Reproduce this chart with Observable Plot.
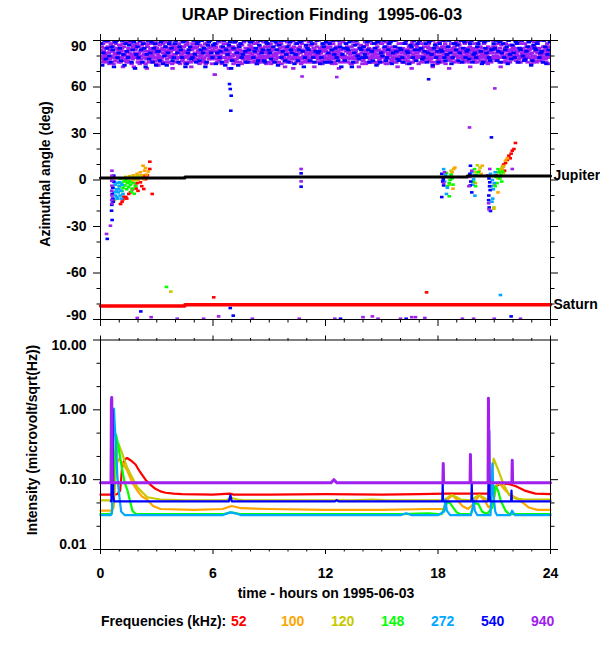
<!DOCTYPE html>
<html><head><meta charset="utf-8">
<script src="https://cdn.jsdelivr.net/npm/d3@7"></script>
<script src="https://cdn.jsdelivr.net/npm/@observablehq/plot@0.6"></script>
<style>
body{margin:0;background:#fff;}
#fig{position:relative;width:600px;height:650px;background:#fff;overflow:hidden;font-family:"Liberation Sans",Arial,sans-serif;}
#fig svg{position:absolute;left:0;overflow:visible;}
.lbl{position:absolute;white-space:pre;font-weight:bold;line-height:1;}
</style></head><body><div id="fig"></div>
<script>
// ---------- data ----------
const freqs = [52, 100, 120, 148, 272, 540, 940];
const freqColors = ["#ff0000", "#ffa500", "#c8c800", "#00ff00", "#00a8ff", "#0000ff", "#a020f0"];

const hourTicks = [0, 6, 12, 18, 24];
const hourMinor = [1,2,3,4,5,7,8,9,10,11,13,14,15,16,17,19,20,21,22,23];
const azTicks = [-90, -60, -30, 0, 30, 60, 90];
const azMinor = [-80,-70,-50,-40,-20,-10,10,20,40,50,70,80];
const intTicks = [0.01, 0.1, 1, 10];
const intMinor = [0.0215, 0.0464, 0.215, 0.464, 2.15, 4.64];

// Jupiter / Saturn azimuth (hour, deg)
const jupiter = [[0,1.3],[4.5,1.3],[4.5,1.9],[19.56,1.9],[19.56,2.6],[24,2.6]];
const saturn = [[0,-81.3],[4.5,-81.3],[4.5,-80.5],[24,-80.5]];

// 940 kHz azimuth band: one string per hour, consecutive samples (2 digits each, deg)
const band940 = [
"848078867682 887983778581 807685898279 869078827584 788488807683 837986758990 817782887985 908478817687",
"827987768483 798588738180 867781908378 768983807785 847682888079 897581847886 807387827984 857979888176",
"788682807589 838078877685 907684817983 817588787286 867983768288 798485807781 887680848379 827786907584",
"857981887478 808387767984 777985828890 848076868183 898278857680 768284798887 837980757286 878176848590",
"818685787983 797688828475 868380908177 788479868276 837587807989 887682847881 807984767385 848881798677",
"798277858890 867880837684 827587797981 908183867678 777984888275 848076828987 817885837980 868279757884",
"877983806885 808688787682 838177848990 788086827579 857682887983 798485777681 888078837286 827986848077",
"847880867589 817784898276 788583807987 868276848188 797587837880 838980767785 907982857884 807683877982",
"788684817690 857980887783 827688797584 897881837686 807985767882 847783898079 778682847588 837980868176",
"868279887583 798485778081 847680908278 818887797684 767983858289 887580827886 807984767383 857881898477",
"827987808476 897683788585 797282868078 848880767983 817785897882 867982757688 788483807990 837677868281",
"807885827689 847981877783 877682807985 797384888176 838680797882 907881857684 827986777583 858079888478",
"788386817985 827689787780 868184797583 798878827690 847580868379 817983777285 887682848081 807985897678",
"858077838879 798684768282 837881907579 867582798487 788980827683 847679888178 817385807986 877982847577",
"827886798489 807583877681 898279857678 787684828088 847981768385 817688837990 867579818477 797883888280",
"887682807985 837984777589 797586828188 857880907683 818477867982 787983848176 907682797385 838885807778",
"807982887684 857683797881 788890828475 847780867983 827985767288 897681838478 807784877982 868279807589",
"838079857688 798584778280 867682908178 817983788685 887780848279 787685827390 848182797688 807986837577",
"857882897680 827984778683 797686818590 887583807984 817980867278 847782887983 787985808476 868180838977",
"808483797688 878276858190 837985807877 797688828483 858081777989 827684867380 907983818578 848077888276",
"817985837688 788482807990 867783798185 837680888277 897981847678 807586827983 857882797684 827990868078",
"798586807782 848078887983 827685797390 878182837680 807984857788 857683817990 788480877682 838779808485",
"867882847990 807785818376 838980787685 797684888281 857982807783 888077848679 817683907985 847981867578",
"827885807689 868079838477 797682888584 848581777980 907883827686 817984798378 857681888082 807986837590"
];
// 540 kHz samples inside the same band
const band540 = [
"8874 8290 7885 9080 7686 8473 8990 7982","8577 9081 7488 8379 8790 7684 8972 8186",
"7990 8476 8885 7381 9078 8289 7685 8874","8383 7789 9075 8086 7482 8890 8577 7988",
"9082 7686 8479 8990 7375 8284 8678 7990","8176 8889 7784 9082 8573 7687 8990 8279",
"8788 7582 9079 8376 8690 7484 8187 8972","7785 8990 8274 8688 7981 9083 7676 8489",
"8990 7983 8575 7787 9082 8477 7689 8884","8278 9086 7689 8474 8790 7983 9077 8186",
"7689 8482 9075 8188 7784 8990 8373 7987","8584 7790 8879 7683 9082 8375 7988 8676",
"8976 8288 7684 9081 8579 7790 8673 8185","7788 8584 8990 7376 8287 9080 7885 8479",
"8681 7989 8476 9083 7788 8574 8990 7682","8090 8677 7984 8889 7582 9086 8378 7785",
"8479 7688 9083 8275 8786 7990 8477 8884","9085 7879 8388 7682 8990 8174 8587 7983",
"7688 8483 9079 7781 8690 8275 7988 8884","8777 8290 7685 8979 8384 7888 9076 8182",
"7986 8890 8375 7689 8582 9079 7784 8488","8590 7783 8976 8288 7984 8675 9081 7887",
"8279 8988 7685 8490 8077 7883 8689 9074","7787 8584 8890 7982 8376 9086 7581 8489"
];

// Scattered azimuth measurements (hour, deg) per frequency
const scatter52 = [[1.07,-15.5],[1.15,-14],[1.2,-12.5],[1.24,-10.8],[1.35,-11],[1.4,-12],[1.51,-9],[1.6,-8],[1.7,-6],[1.87,-3.7],[1.9,-5.5],[1.95,-2],[2.0,-7],[2.13,-1.5],[2.2,-4],[2.3,2.8],[2.31,-5.8],[2.4,0.5],[2.5,3],[2.63,7.1],[2.63,11.8],[2.76,-9],
  [6.04,-75.7],[17.39,-72.5],
  [21.1,3],[21.25,1.5],[21.3,5.5],[21.45,8.5],[21.5,10],[21.55,6],[21.6,11],[21.7,13],[21.78,15.7],[21.85,14],[21.9,17],[21.96,18.9],[22.05,20],[22.13,23.9]];
const scatter100 = [[1.5,1],[1.6,2],[1.7,-0.5],[1.75,3],[1.85,1.5],[1.95,4],[2.0,0],[2.05,2.5],[2.13,5],[2.2,3],[2.27,9.2],[2.3,0.5],[2.35,6],[2.4,7.7],[2.45,3.5],[2.55,5.5],
  [18.7,3],[18.75,5],[18.8,-5.6],[18.84,7.1],[18.9,8],
  [20.0,-2],[20.2,6],[20.3,4],[20.36,9.2],
  [21.0,-3],[21.2,-8],[21.4,7],[21.5,9],[21.6,12.5],[21.7,14]];
const scatter120 = [[0.75,-13],[1.25,1],[1.35,2],[1.4,-1.5],[1.45,0.5],[1.55,2.5],[1.6,-1],[1.65,1],[1.75,2],[1.85,0],[1.95,2.5],[2.05,1],[2.13,2.8],
  [3.75,-72],
  [18.6,-3],[18.7,6],[20.0,5],[20.1,9.5],[20.25,8],
  [20.98,-17.7],[20.98,-18.5],[21.2,1],[21.3,6],[21.42,8.1],[21.5,4.5]];
const scatter148 = [[1.0,-4],[1.05,0.8],[1.1,-2],[1.15,-7],[1.2,-5],[1.25,-1],[1.3,-3.5],[1.35,0],[1.4,-6],[1.45,-2],[1.5,-4.5],[1.55,-1],[1.6,-3],[1.65,-7.5],[1.7,-5.5],[1.75,-2],[1.8,-8.9],[1.87,-4],
  [3.52,-69],
  [18.45,4.5],[18.5,-4],[18.55,2],[18.6,-2],[18.6,-10.5],[18.65,0],[18.7,3.5],[18.75,1],[18.8,-3],
  [19.9,-1],[19.95,7],[20.0,-4],[20.05,3],[20.15,5],
  [21.05,-4],[21.1,2],[21.15,-2],[21.2,7],[21.24,4.9],[21.3,1],[21.35,3.5],[21.4,-1],[21.45,5.5]];
const scatter272 = [[0.6,-15.5],[0.65,-14],[0.68,-5],[0.7,-12.3],[0.72,-8],[0.75,-1.5],[0.78,-3],[0.8,-10],[0.82,-7.5],[0.85,-6],[0.88,-11],[0.9,-2],[0.92,-12],[0.95,-8],[0.98,-6],[1.0,-4],[1.02,-1.5],[1.05,-10],[1.1,-7],[1.12,-12],[1.15,-3],[1.2,-9],
  [18.3,7],[18.35,-1],[18.4,3],[18.45,-9],[18.5,-5],
  [19.8,5],[19.85,-3],[19.9,0.6],[19.95,3],[19.97,-10.1],
  [20.8,4],[20.85,-4],[20.88,-14],[20.9,0],[20.92,-12],[20.95,-6],[20.98,2.8],[21.0,-2],[21.05,5],
  [21.33,-74.2]];
const scatter540 = [[0.36,-38],[0.59,-19.8],[0.6,-16],[0.62,-9],[0.62,-25.8],[0.65,-5],[0.65,-12],[0.68,-14],[0.7,-1],[0.71,2.8],
  [6.88,61.9],[6.92,58.7],[6.97,54.4],[6.95,44.7],[10.7,4.3],[10.7,-4.3],[17.5,65],
  [2.15,-84.8],[6.92,-82.6],[7.08,-87.5],[21.9,-88],[12.8,-89.5],[16.3,-89.5],
  [18.2,-11],[18.2,4],[18.25,-1],[18.28,0.5],[18.3,-3.5],
  [19.7,4],[19.72,-3.5],[19.73,9.2],[19.75,-1],[19.8,-8],
  [20.7,-13],[20.71,-10],[20.72,1],[20.73,-17.7],[20.75,-4],[20.76,-1.5],[20.78,-6.5],[20.8,-20],[20.85,27.5]];
const scatter940 = [[0.32,-34.8],[0.53,-29.5],[0.6,-0.5],[0.6,-6.9],[0.6,-12.9],[0.61,6],[0.61,2.8],[0.61,-3.7],[0.61,-10],[0.61,-15.3],
  [10.7,7.1],[10.7,-0.9],[10.75,66.8],[12.6,66.4],[19.68,33.9],[21.03,59.1],
  [18.3,-2],[18.35,5],[19.65,-4],[19.7,2],[19.8,6],[20.65,3],[20.7,-15],[20.72,-19],[20.76,7.1],[21.96,7.1],
  [1.96,-89],[2.7,-88.5],[4.09,-89.5],[5.5,-89.5],[6.3,-88],[8.1,-89.5],[10.6,-89.5],[12.5,-89.5],[14.0,-88.5],[14.5,-88],[14.8,-89.5],[16.0,-89.5],[16.6,-88.5],[16.8,-88.5],[17.3,-89],[19.3,-89.5],[19.9,-89.5],[21.0,-89.5],[22.4,-89.5]];

// Intensity (hour, microvolt/sqrt(Hz)) per frequency
const int52 = [[0,0.061],[0.5,0.061],[0.9,0.062],[1.05,0.07],[1.15,0.15],[1.3,0.195],[1.42,0.204],[1.6,0.19],[1.87,0.165],[2.1,0.13],[2.4,0.1],[2.65,0.085],[2.93,0.074],[3.2,0.068],[3.47,0.065],[3.9,0.063],[4.36,0.062],[6,0.061],[6.9,0.063],[7.1,0.061],[9,0.061],[12,0.062],[15,0.061],[17,0.062],[18.4,0.063],[20.95,0.063],[21.07,0.08],[21.3,0.087],[21.51,0.088],[21.8,0.086],[22.13,0.081],[22.4,0.075],[22.67,0.069],[23.2,0.063],[24,0.062]];
const int100 = [[0,0.036],[0.6,0.036],[0.7,0.04],[0.8,0.12],[0.9,0.18],[1.0,0.2],[1.2,0.17],[1.42,0.136],[1.7,0.09],[1.96,0.07],[2.2,0.058],[2.49,0.052],[2.8,0.042],[3.2,0.038],[5,0.037],[6.5,0.038],[7.0,0.042],[7.5,0.039],[9,0.038],[12,0.037],[15,0.037],[17.5,0.038],[18.3,0.038],[18.45,0.05],[18.76,0.06],[19.0,0.052],[19.3,0.042],[19.6,0.038],[19.9,0.045],[20.2,0.06],[20.5,0.05],[20.7,0.04],[20.95,0.045],[21.1,0.08],[21.24,0.092],[21.5,0.075],[21.78,0.063],[22.3,0.052],[22.84,0.04],[23.3,0.037],[24,0.037]];
const int120 = [[0,0.0505],[0.6,0.0505],[0.72,0.07],[0.85,0.2],[0.95,0.33],[1.1,0.26],[1.25,0.2],[1.42,0.15],[1.6,0.12],[1.96,0.078],[2.5,0.056],[3.2,0.052],[4.5,0.0505],[6.7,0.0505],[6.95,0.055],[7.3,0.052],[7.6,0.0505],[13.5,0.0505],[14.5,0.052],[15.3,0.0505],[18.3,0.0505],[18.5,0.055],[18.7,0.06],[18.95,0.057],[19.2,0.052],[19.7,0.0505],[20.0,0.056],[20.2,0.06],[20.45,0.055],[20.7,0.0505],[20.85,0.09],[20.97,0.2],[21.2,0.14],[21.5,0.085],[21.8,0.06],[22.1,0.054],[22.6,0.052],[24,0.052]];
const int148 = [[0,0.032],[0.6,0.032],[0.7,0.1],[0.83,0.44],[0.93,0.33],[1.1,0.17],[1.28,0.092],[1.44,0.07],[1.7,0.036],[1.87,0.0325],[3,0.032],[6.5,0.032],[7.0,0.034],[7.5,0.032],[12,0.032],[16,0.032],[17.5,0.033],[18.2,0.032],[18.4,0.044],[18.6,0.048],[18.8,0.04],[19.0,0.034],[19.2,0.032],[19.75,0.032],[19.95,0.046],[20.15,0.045],[20.35,0.035],[20.6,0.032],[20.9,0.04],[21.07,0.081],[21.2,0.07],[21.35,0.05],[21.6,0.036],[21.8,0.032],[24,0.032]];
const int272 = [[0,0.031],[0.55,0.031],[0.62,0.035],[0.68,0.5],[0.72,1.04],[0.76,0.6],[0.82,0.34],[0.9,0.11],[1.0,0.06],[1.1,0.035],[1.3,0.031],[6.5,0.031],[6.9,0.034],[7.2,0.033],[7.5,0.031],[16,0.031],[16.3,0.033],[16.6,0.031],[18.0,0.031],[18.33,0.035],[18.4,0.052],[18.47,0.036],[18.65,0.031],[19.75,0.031],[19.85,0.04],[19.9,0.052],[19.96,0.036],[20.1,0.031],[20.8,0.031],[20.86,0.08],[20.9,0.17],[20.96,0.06],[21.05,0.035],[21.15,0.031],[21.85,0.031],[21.95,0.036],[22.1,0.031],[24,0.031]];
const int540 = [[0.55,0.049],[0.58,0.049],[0.59,0.3],[0.6,1.5],[0.62,0.6],[0.64,1.0],[0.66,0.3],[0.68,0.06],[0.72,0.049],[6.85,0.049],[6.93,0.06],[7.0,0.049],[12.5,0.049],[12.6,0.051],[12.7,0.049],[18.23,0.049],[18.25,0.088],[18.27,0.049],[19.78,0.049],[19.8,0.09],[19.82,0.049],[20.68,0.049],[20.7,0.23],[20.73,0.5],[20.75,0.06],[20.78,0.049],[21.9,0.049],[21.92,0.07],[21.94,0.049],[24,0.049]];
const int940 = [[0,0.09],[0.56,0.09],[0.57,0.3],[0.58,1.3],[0.6,1.5],[0.61,0.5],[0.63,0.09],[12.3,0.09],[12.45,0.1],[12.6,0.09],[18.26,0.09],[18.28,0.17],[18.3,0.09],[19.71,0.09],[19.73,0.23],[19.75,0.09],[20.67,0.09],[20.69,1.47],[20.71,0.3],[20.73,0.09],[21.94,0.09],[21.96,0.19],[21.98,0.09],[24,0.09]];

// ---------- build ----------
const FONT = "'Liberation Sans', Arial, sans-serif";
const scatterByFreq = [scatter52, scatter100, scatter120, scatter148, scatter272, scatter540, scatter940];
const intByFreq = [int52, int100, int120, int148, int272, int540, int940];

function parseBand(strs) {
  const out = [];
  strs.forEach((s, h) => {
    const vals = s.replace(/ /g, "").match(/\d\d/g).map(Number);
    vals.forEach((v, k) => out.push({t: h + (k + 0.5) / vals.length, az: v}));
  });
  return out;
}
const band940pts = parseBand(band940);
const band540pts = parseBand(band540);
const pairs = arr => arr.map(([t, v]) => ({t, v}));

const sqBand = {draw(ctx) { ctx.rect(-2.2, -1.4, 4.4, 2.8); }};
const sq = {draw(ctx) { ctx.rect(-1.8, -1.3, 3.6, 2.6); }};
const dotOpts = (c, s) => ({x: "t", y: "az", symbol: s || sq, fill: c, stroke: "none", clip: true});

function axisMarks(xs, ys, big, small, xbig, xsmall) {
  const nf = () => "";
  return [
    Plot.axisX({anchor: "top", ticks: xs[0], tickSize: xbig, tickFormat: nf, label: null}),
    Plot.axisX({anchor: "top", ticks: xs[1], tickSize: xsmall, tickFormat: nf, label: null}),
    Plot.axisX({anchor: "bottom", ticks: xs[0], tickSize: xbig, tickFormat: nf, label: null}),
    Plot.axisX({anchor: "bottom", ticks: xs[1], tickSize: xsmall, tickFormat: nf, label: null}),
    Plot.axisY({anchor: "left", ticks: ys[0], tickSize: big, tickFormat: nf, label: null}),
    Plot.axisY({anchor: "left", ticks: ys[1], tickSize: small, tickFormat: nf, label: null}),
    Plot.axisY({anchor: "right", ticks: ys[0], tickSize: big, tickFormat: nf, label: null}),
    Plot.axisY({anchor: "right", ticks: ys[1], tickSize: small, tickFormat: nf, label: null}),
    Plot.frame({stroke: "black", strokeWidth: 1})
  ];
}

const fig = document.getElementById("fig");

// top panel
const topMarks = [
  Plot.dot(band940pts, dotOpts(freqColors[6], sqBand)),
  Plot.dot(band540pts, dotOpts(freqColors[5], sqBand)),
  ...scatterByFreq.map((arr, i) => Plot.dot(arr.map(([t, az]) => ({t, az})), dotOpts(freqColors[i]))),
  Plot.line(jupiter.map(([t, az]) => ({t, az})), {x: "t", y: "az", stroke: "black", strokeWidth: 3}),
  Plot.line(saturn.map(([t, az]) => ({t, az})), {x: "t", y: "az", stroke: "#ff0000", strokeWidth: 3.5}),
  ...axisMarks([hourTicks, hourMinor], [azTicks, azMinor], 7, 3.5, 7, 3.5),
  Plot.text(azTicks.filter(d => Math.abs(d) < 90), {x: 0, y: d => d, text: d => String(d), dx: -14, textAnchor: "end", fontSize: 14, fontWeight: "bold"}),
  Plot.text([90], {x: 0, y: d => d, text: d => String(d), dx: -14, dy: 6, textAnchor: "end", fontSize: 14, fontWeight: "bold"}),
  Plot.text([-90], {x: 0, y: d => d, text: d => String(d), dx: -14, dy: -4, textAnchor: "end", fontSize: 14, fontWeight: "bold"}),
  Plot.text([jupiter[jupiter.length - 1]], {x: d => d[0], y: d => d[1], text: () => "Jupiter", dx: 3, textAnchor: "start", fontSize: 14, fontWeight: "bold"}),
  Plot.text([saturn[saturn.length - 1]], {x: d => d[0], y: d => d[1], text: () => "Saturn", dx: 3, textAnchor: "start", fontSize: 14, fontWeight: "bold"})
];
const topPlot = Plot.plot({
  width: 600, height: 330, marginTop: 40, marginBottom: 11, marginLeft: 100, marginRight: 50,
  x: {domain: [0, 24]}, y: {domain: [-90, 90]},
  style: {fontFamily: FONT, fontSize: "14px", background: "transparent", overflow: "visible", color: "black"},
  marks: topMarks
});
topPlot.style.top = "0px";
fig.appendChild(topPlot);

// bottom panel
const fmt2 = d3.format(".2f");
const botMarks = [
  ...intByFreq.map((arr, i) => Plot.line(pairs(arr), {x: "t", y: "v", stroke: freqColors[i], strokeWidth: i === 6 ? 3 : 2.2})),
  ...axisMarks([hourTicks, hourMinor], [intTicks, intMinor], 7, 3.5, 5, 2.5),
  Plot.text(intTicks.filter(d => d > 0.01 && d < 10), {x: 0, y: d => d, text: d => fmt2(d), dx: -14, textAnchor: "end", fontSize: 14, fontWeight: "bold"}),
  Plot.text([10], {x: 0, y: d => d, text: d => fmt2(d), dx: -14, dy: 6, textAnchor: "end", fontSize: 14, fontWeight: "bold"}),
  Plot.text([0.01], {x: 0, y: d => d, text: d => fmt2(d), dx: -14, dy: -5, textAnchor: "end", fontSize: 14, fontWeight: "bold"}),
  Plot.text(hourTicks, {x: d => d, y: 0.01, text: d => String(d), dy: 24, textAnchor: "middle", fontSize: 14, fontWeight: "bold"})
];
const botPlot = Plot.plot({
  width: 600, height: 280, marginTop: 9.5, marginBottom: 61, marginLeft: 100, marginRight: 50,
  x: {domain: [0, 24]}, y: {type: "log", domain: [0.01, 10]},
  style: {fontFamily: FONT, fontSize: "14px", background: "transparent", overflow: "visible", color: "black"},
  marks: botMarks
});
botPlot.style.top = "330px";
fig.appendChild(botPlot);

// text outside the plot areas
function label(txt, x, y, {size = 14, color = "#000", rotate = 0, anchor = "middle"} = {}) {
  const d = document.createElement("div");
  d.className = "lbl";
  d.textContent = txt;
  d.style.left = x + "px";
  d.style.top = y + "px";
  d.style.fontSize = size + "px";
  d.style.color = color;
  d.style.fontFamily = FONT;
  d.style.transform = `translate(${anchor === "start" ? "0" : "-50%"}, -50%) rotate(${rotate}deg)`;
  fig.appendChild(d);
}
label("URAP Direction Finding  1995-06-03", 322, 14, {size: 16.5});
label("Azimuthal angle (deg)", 45, 174, {rotate: -90});
label("Intensity (microvolt/sqrt(Hz))", 32, 440, {rotate: -90});
label("time - hours on 1995-06-03", 326, 593);
label("Frequencies (kHz):", 101, 621, {anchor: "start"});
freqs.forEach((f, i) => label(String(f), 231 + 50 * i, 621, {anchor: "start", color: freqColors[i]}));
</script></body></html>
